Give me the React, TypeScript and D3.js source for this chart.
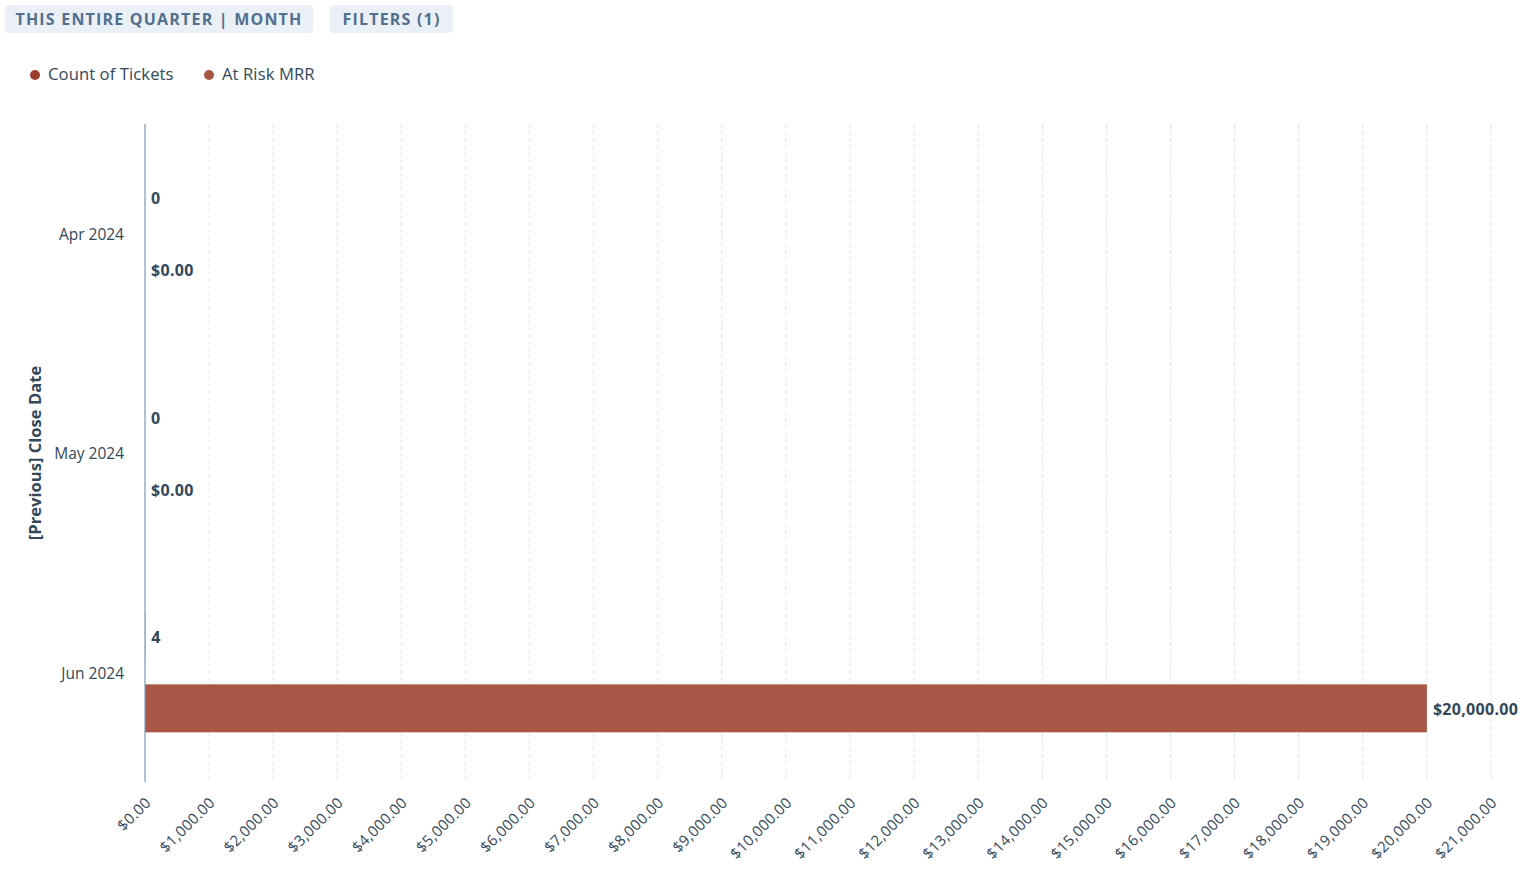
import React from "react";
import * as d3 from "d3";

const months = ["Apr 2024", "May 2024", "Jun 2024"];
const countOfTickets = [0, 0, 4];
const atRiskMRR = [0, 0, 20000];
const seriesNames = ["Count of Tickets", "At Risk MRR"];
const seriesColors = ["#9b3e2f", "#a85747"];
const xTicks = d3.range(0, 21001, 1000);
const buttons = ["THIS ENTIRE QUARTER | MONTH", "FILTERS (1)"];

const W = 1537;
const H = 883;
const FONT = "'Open Sans', 'Noto Sans', sans-serif";
const TEXT = "#33475b";

export default function App() {
  const left = 145;
  const right = 1491;
  const top = 124;
  const bottom = 782;

  const x = d3.scaleLinear().domain([0, 21000]).range([left, right]);
  const y0 = d3.scaleBand<string>().domain(months).range([top, bottom]).padding(0);
  const y1 = d3
    .scaleBand<string>()
    .domain(["count", "mrr"])
    .range([0, y0.bandwidth()])
    .paddingInner(1 / 3)
    .paddingOuter(0.69);

  const fmt$ = (v: number) => "$" + d3.format(",.2f")(v);

  const btnX = [5, 330];
  const btnW = [308, 123];

  return (
    <svg width={W} height={H} style={{ position: "absolute", left: 0, top: 0, background: "#fff" }}>
      {buttons.map((b, i) => (
        <g key={b}>
          <rect x={btnX[i]} y={5} width={btnW[i]} height={28} rx={4} fill="#eaf0f6" />
          <text
            x={btnX[i] + btnW[i] / 2}
            y={24.5}
            textAnchor="middle"
            fontFamily={FONT}
            fontWeight={700}
            fontSize={16}
            letterSpacing={1.2}
            fill="#516f90"
          >
            {b}
          </text>
        </g>
      ))}

      {/* legend */}
      {seriesNames.map((s, i) => {
        const lx = [35, 209][i];
        return (
          <g key={s}>
            <circle cx={lx} cy={75} r={5} fill={seriesColors[i]} />
            <text x={lx + 13} y={79.5} fontFamily={FONT} fontSize={16.6} letterSpacing={0.1} fill={TEXT}>
              {s}
            </text>
          </g>
        );
      })}

      {/* grid */}
      {xTicks.slice(1).map((t) => (
        <line
          key={t}
          x1={x(t)}
          x2={x(t)}
          y1={top}
          y2={bottom}
          stroke="#dfe3eb"
          strokeDasharray="4,3"
        />
      ))}

      {/* x tick labels */}
      {xTicks.map((t) => (
        <text
          key={t}
          transform={`translate(${x(t) + 3},${800}) rotate(-45)`}
          textAnchor="end"
          dy="0.35em"
          fontFamily={FONT}
          fontSize={15}
          letterSpacing={0.3}
          fill={TEXT}
        >
          {fmt$(t)}
        </text>
      ))}

      {/* bars */}
      {months.map((m, i) => {
        const by = y0(m)!;
        const yc = by + y1("count")!;
        const ym = by + y1("mrr")!;
        const bh = y1.bandwidth();
        return (
          <g key={m}>
            <rect x={x(0)} y={yc} width={x(countOfTickets[i]) - x(0)} height={bh} fill={seriesColors[0]} />
            <rect x={x(0)} y={ym} width={x(atRiskMRR[i]) - x(0)} height={bh} fill={seriesColors[1]} />
            <text
              x={x(countOfTickets[i]) + 6}
              y={yc + bh / 2 + 1}
              dy="0.35em"
              fontFamily={FONT}
              fontWeight={700}
              fontSize={16}
              fill={TEXT}
            >
              {d3.format(",")(countOfTickets[i])}
            </text>
            <text
              x={x(atRiskMRR[i]) + 6}
              y={ym + bh / 2 + 1}
              dy="0.35em"
              fontFamily={FONT}
              fontWeight={700}
              fontSize={16}
              letterSpacing={0.3}
              fill={TEXT}
            >
              {fmt$(atRiskMRR[i])}
            </text>
            <text
              x={124}
              y={by + y0.bandwidth() / 2 + 1}
              dy="0.35em"
              textAnchor="end"
              fontFamily={FONT}
              fontSize={15.5}
              fill={TEXT}
            >
              {m}
            </text>
          </g>
        );
      })}

      {/* axis line */}
      <line x1={left} x2={left} y1={top} y2={bottom} stroke="#7c98b6" strokeWidth={1.2} />

      {/* y title */}
      <text
        transform={`translate(35,${(top + bottom) / 2}) rotate(-90)`}
        textAnchor="middle"
        dy="0.35em"
        fontFamily={FONT}
        fontWeight={700}
        fontSize={16.6}
        fill={TEXT}
      >
        [Previous] Close Date
      </text>
    </svg>
  );
}
